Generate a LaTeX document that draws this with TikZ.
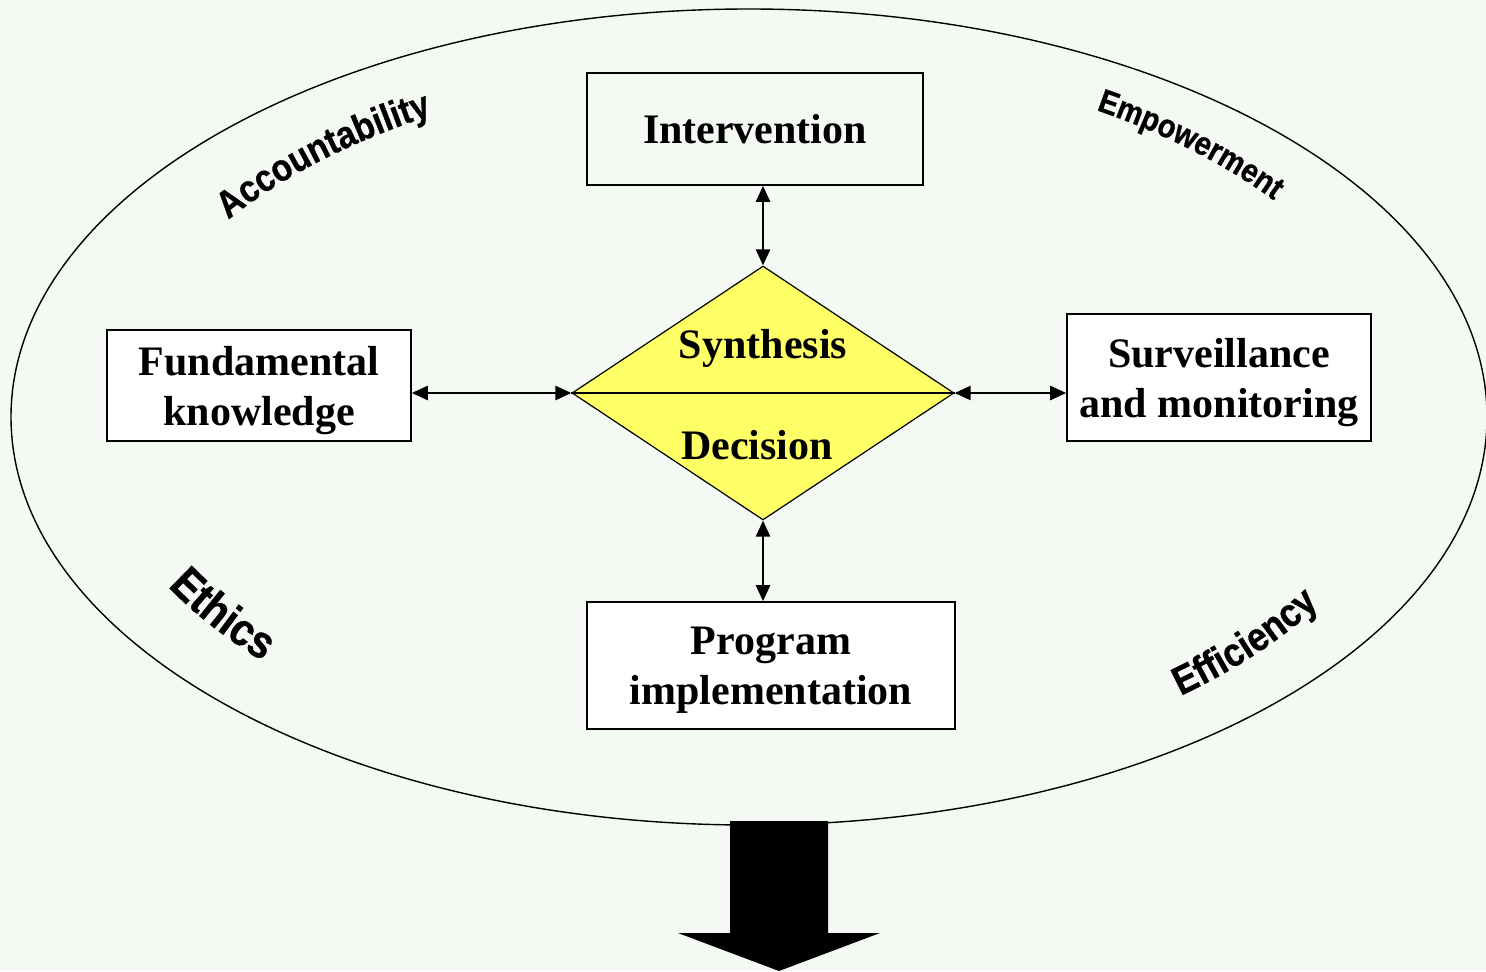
\documentclass[tikz,border=0pt]{standalone}
\usepackage{fontspec}
\setmainfont{Liberation Serif}
\newfontfamily\wordart{Liberation Sans}[FakeStretch=0.88, FakeBold=0.8]
\usetikzlibrary{shapes.geometric,arrows.meta,decorations.text}

\definecolor{bgpale}{RGB}{244,249,243}
\definecolor{decyellow}{RGB}{255,255,102}

\begin{document}
\begin{tikzpicture}[
    x=0.5pt, y=0.5pt,
    mybox/.style={
       rectangle,
       draw=black,
       line width=0.8pt,
       align=center,
       inner sep=0pt,
       text depth=0pt,
       font=\bfseries\fontsize{21}{25}\selectfont},
    mydiamond/.style={
       diamond,
       draw=black,
       fill=decyellow,
       line width=0.6pt,
       inner sep=0pt,
       minimum width=191pt,
       minimum height=127pt},
    mylabel/.style={font=\bfseries\fontsize{21}{25}\selectfont},
    myarrow/.style={{Triangle[length=8pt,width=7pt]}-{Triangle[length=8pt,width=7pt]},
       line width=1.2pt},
    curved/.style 2 args={decorate,
       decoration={text along path, text align=center,
       text={|\wordart\bfseries\fontsize{#1}{#1}\selectfont|#2}}}
    ]
    \useasboundingbox (0,0) rectangle (1486,971);
    \fill[bgpale] (0,0) rectangle (1486,971);

    % block arrow under the oval
    \fill (730,150) -- (828,150) -- (828,38) -- (880,38) -- (779,0)
          -- (678,38) -- (730,38) -- cycle;
    \coordinate (oc) at (749,554);
    \draw[line width=0.7pt] (oc) ellipse [x radius=738, y radius=408];

    \node[mydiamond] (dia) at (763,578) {};
    \draw[line width=1.4pt] (dia.west) -- (dia.east);
    \node[mylabel] (syn) at (763,623) {Synthesis};
    \node[mylabel] (dec) at (757,526) {Decision};

    \node[mybox, minimum width=168pt, minimum height=56pt] (inter) at (755,842) {Intervention};
    \node[mybox, fill=white, minimum width=152pt, minimum height=55.5pt] (fund) at (259,585.5) {Fundamental\\ knowledge};
    \node[mybox, fill=white, minimum width=152pt, minimum height=63.5pt] (surv) at (1219,593.5) {Surveillance\\ and monitoring};
    \node[mybox, fill=white, minimum width=184pt, minimum height=63.5pt] (prog) at (771,305.5) {Program\\ implementation};

    \foreach \a/\b in {north/inter.south, south/prog.north}
      \draw[myarrow] (dia.\a) -- (dia.\a |- \b);
    \foreach \a/\b in {west/fund.east, east/surv.west}
      \draw[myarrow] (dia.\a) -- (dia.\a -| \b);

    % words round the oval
    \path[curved={19}{Accountability}, shift={(oc)}]
      (151:631 and 349) arc[start angle=151, end angle=116, x radius=631, y radius=349];
    \path[curved={16.5}{Empowerment}, shift={(oc)}]
      (61:655 and 362) arc[start angle=61, end angle=33, x radius=655, y radius=362];
    \path[curved={23}{Ethics}, shift={(oc)}]
      (198:657 and 363) arc[start angle=198, end angle=230, x radius=657, y radius=363];
    \path[curved={20}{Efficiency}, shift={(oc)}]
      (302:664 and 367) arc[start angle=302, end angle=340.5, x radius=664, y radius=367];
\end{tikzpicture}
\end{document}
